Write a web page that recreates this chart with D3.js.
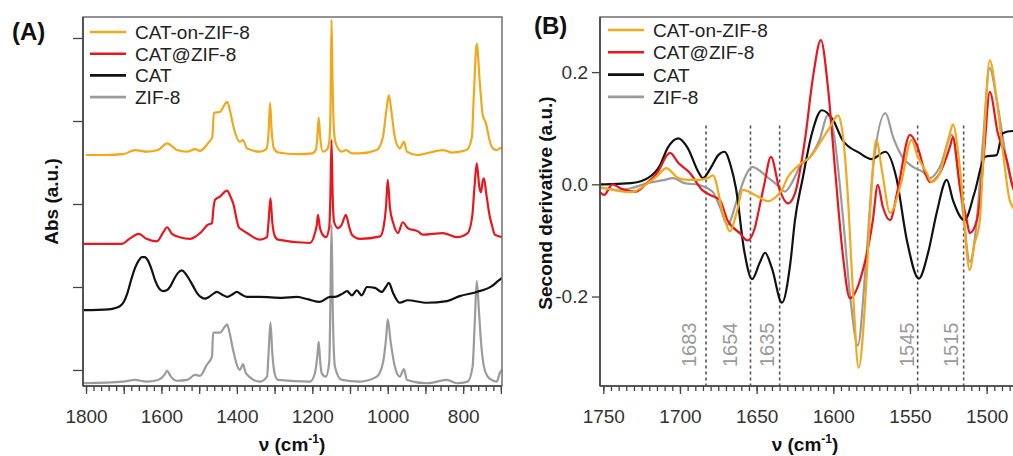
<!DOCTYPE html>
<html>
<head>
<meta charset="utf-8">
<script src="https://cdn.jsdelivr.net/npm/d3@7"></script>
<style>
  body { margin: 0; background: #fff; }
  svg { display: block; }
  text { font-family: "Liberation Sans", Arial, Helvetica, sans-serif; }
</style>
</head>
<body>
<svg id="fig" width="1013" height="456"></svg>
<script>
// ---------- data ----------
const seriesNames  = ["CAT-on-ZIF-8", "CAT@ZIF-8", "CAT", "ZIF-8"];
const seriesColors = ["#f3a71b", "#e8171e", "#111111", "#9b9b9b"];

// (A) FTIR absorbance, offset traces: [wavenumber, abs]
const absCatOnZif = [[1800,2.59],[1750,2.59],[1702,2.60],[1670,2.65],[1638,2.63],[1609,2.65],[1585,2.73],[1559,2.65],[1532,2.63],[1511,2.66],[1498,2.64],[1477,2.73],[1465,2.81],[1461,3.10],[1445,3.11],[1432,3.20],[1426,3.23],[1418,3.12],[1410,2.95],[1392,2.75],[1384,2.77],[1373,2.67],[1339,2.63],[1322,2.66],[1316,2.85],[1312,3.22],[1308,2.90],[1302,2.67],[1290,2.62],[1240,2.60],[1200,2.61],[1190,2.66],[1186,2.85],[1183,3.04],[1179,2.80],[1172,2.63],[1162,2.65],[1155,2.75],[1152,3.10],[1149,4.22],[1146,3.40],[1142,2.85],[1137,2.72],[1122,2.63],[1111,2.65],[1095,2.61],[1074,2.61],[1029,2.65],[1013,2.80],[1003,3.15],[997,3.31],[989,3.07],[981,2.80],[968,2.67],[957,2.75],[949,2.63],[923,2.59],[854,2.65],[830,2.62],[791,2.65],[777,2.80],[772,3.28],[764,3.93],[756,3.47],[748,3.07],[740,2.98],[729,2.75],[721,2.67],[711,2.65],[703,2.67],[697,2.68]];
const absCatAtZif = [[1808,1.52],[1705,1.52],[1685,1.58],[1660,1.64],[1640,1.58],[1612,1.55],[1595,1.66],[1585,1.72],[1572,1.64],[1551,1.60],[1524,1.58],[1509,1.61],[1495,1.66],[1477,1.75],[1466,1.77],[1462,1.95],[1458,2.05],[1445,2.09],[1426,2.16],[1418,2.10],[1410,2.01],[1395,1.72],[1387,1.69],[1373,1.65],[1339,1.57],[1320,1.60],[1316,1.78],[1311,2.07],[1306,1.78],[1300,1.62],[1291,1.57],[1206,1.53],[1193,1.65],[1188,1.75],[1185,1.87],[1180,1.72],[1175,1.65],[1164,1.60],[1155,1.72],[1152,2.10],[1149,2.77],[1146,2.10],[1142,1.78],[1132,1.71],[1122,1.75],[1111,1.87],[1102,1.72],[1095,1.63],[1074,1.58],[1020,1.61],[1010,1.75],[1004,2.00],[1000,2.29],[994,1.95],[986,1.78],[973,1.65],[960,1.78],[947,1.71],[920,1.67],[907,1.63],[854,1.65],[817,1.60],[788,1.65],[776,1.85],[770,2.20],[764,2.49],[757,2.20],[753,2.14],[748,2.28],[745,2.31],[738,2.10],[729,1.84],[724,1.75],[716,1.63],[697,1.60]];
const absCat = [[1808,0.72],[1740,0.73],[1720,0.75],[1710,0.77],[1700,0.82],[1690,0.93],[1680,1.09],[1670,1.23],[1660,1.32],[1652,1.36],[1644,1.36],[1636,1.32],[1626,1.21],[1616,1.07],[1606,0.98],[1596,0.95],[1586,0.96],[1576,1.01],[1566,1.10],[1556,1.17],[1546,1.20],[1536,1.16],[1526,1.09],[1516,1.01],[1506,0.93],[1496,0.88],[1485,0.86],[1474,0.88],[1462,0.92],[1453,0.94],[1440,0.91],[1425,0.88],[1412,0.91],[1400,0.94],[1388,0.91],[1373,0.88],[1339,0.88],[1280,0.87],[1241,0.88],[1210,0.85],[1180,0.82],[1153,0.88],[1140,0.88],[1120,0.92],[1108,0.95],[1095,0.90],[1082,0.96],[1069,0.90],[1055,1.00],[1034,0.99],[1016,0.94],[1005,1.00],[997,1.05],[986,0.93],[968,0.81],[947,0.84],[896,0.81],[843,0.83],[809,0.89],[764,0.94],[724,1.01],[708,1.07],[697,1.11]];
const absZif = [[1808,-0.16],[1702,-0.14],[1670,-0.12],[1640,-0.14],[1609,-0.12],[1592,-0.06],[1585,-0.01],[1575,-0.08],[1559,-0.13],[1532,-0.12],[1511,-0.06],[1498,-0.07],[1480,0.06],[1466,0.16],[1463,0.45],[1445,0.45],[1432,0.52],[1426,0.55],[1418,0.42],[1410,0.24],[1392,0.00],[1384,0.07],[1376,-0.04],[1339,-0.14],[1320,-0.08],[1316,0.20],[1311,0.57],[1306,0.20],[1300,-0.04],[1291,-0.12],[1206,-0.14],[1193,-0.04],[1186,0.20],[1183,0.34],[1179,0.10],[1175,-0.04],[1164,-0.08],[1155,0.10],[1152,0.80],[1149,1.75],[1146,0.80],[1140,0.04],[1122,-0.12],[1074,-0.14],[1029,-0.08],[1013,0.08],[1004,0.40],[1000,0.61],[992,0.33],[981,0.04],[968,-0.08],[957,0.01],[949,-0.12],[896,-0.16],[843,-0.12],[817,-0.16],[788,-0.14],[775,0.04],[769,0.60],[764,1.07],[758,0.70],[753,0.36],[745,0.04],[735,-0.08],[724,-0.12],[711,-0.14],[703,-0.04],[697,0.00]];

// (B) second derivative, amide region: [wavenumber, d2]
const d2CatOnZif = [[1752,-0.005],[1749,-0.007],[1732,-0.014],[1721,0.002],[1714.4,0.016],[1709,0.029],[1701,0.011],[1695,0.008],[1688,0.008],[1682,0.011],[1678.5,0.016],[1672,-0.051],[1667.4,-0.084],[1663,-0.05],[1659,-0.01],[1651,-0.019],[1642.6,-0.03],[1638,-0.024],[1633.5,-0.01],[1629.6,0.013],[1623.7,0.031],[1620.5,0.038],[1614,0.052],[1607.5,0.079],[1602.2,0.102],[1597,0.123],[1594.4,0.1],[1591,0.0],[1587,-0.2],[1583.5,-0.327],[1579,-0.2],[1576,-0.05],[1572,0.079],[1568,0.02],[1563,-0.051],[1556,0.0],[1549,0.079],[1545,0.05],[1539,0.02],[1536,0.004],[1530.5,0.02],[1524,0.09],[1522,0.107],[1517.5,0.031],[1511,-0.153],[1508,-0.108],[1504.4,-0.064],[1502.5,0.031],[1498,0.221],[1493.4,0.15],[1489.5,0.061],[1485,-0.028],[1483,-0.04],[1470,-0.09]];
const d2CatAtZif = [[1752,-0.014],[1749.5,-0.019],[1744,0.0],[1739,-0.007],[1729,-0.013],[1721.5,0.002],[1715,0.02],[1706.5,0.056],[1701,0.038],[1693.5,0.02],[1685.6,-0.01],[1680.4,-0.019],[1674,-0.028],[1669,-0.064],[1661,-0.087],[1656,-0.1],[1651,-0.076],[1650,-0.064],[1645,0.0],[1640.7,0.049],[1635,-0.01],[1629.6,-0.034],[1625,-0.016],[1618.5,0.079],[1613.3,0.19],[1608.1,0.257],[1603.5,0.173],[1599,0.031],[1594,-0.12],[1589.2,-0.203],[1580.7,-0.153],[1574.2,-0.064],[1571,-0.001],[1567.7,-0.04],[1563,-0.064],[1558,-0.01],[1550,0.088],[1545,0.066],[1540,0.02],[1537,0.004],[1530.5,0.02],[1524,0.066],[1522,0.084],[1517.5,-0.004],[1513,-0.064],[1511,-0.087],[1506.4,-0.064],[1504.4,-0.028],[1501.2,0.073],[1498,0.165],[1492.7,0.091],[1486.8,0.043],[1483,-0.004],[1470,-0.06]];
const d2Cat = [[1752,0.0],[1749,0.0],[1732,0.002],[1721,0.011],[1713,0.034],[1708,0.065],[1701,0.082],[1695,0.065],[1688,0.022],[1685,0.011],[1680,0.029],[1675,0.052],[1671,0.058],[1667,0.034],[1663.5,-0.007],[1658,-0.12],[1653,-0.169],[1648,-0.14],[1644.5,-0.122],[1640,-0.15],[1633.5,-0.211],[1628,-0.14],[1625,-0.064],[1620,0.01],[1614,0.09],[1607.5,0.132],[1600,0.114],[1594,0.079],[1583,0.056],[1575,0.045],[1566,0.058],[1559,0.013],[1552,-0.1],[1544.3,-0.168],[1538,-0.12],[1532.6,-0.051],[1526,0.008],[1522,-0.028],[1514.4,-0.064],[1508,-0.016],[1501,0.049],[1493.5,0.052],[1489.6,0.091],[1483,0.095],[1470,0.09]];
const d2Zif = [[1752,-0.007],[1749,-0.007],[1740,-0.011],[1732,-0.007],[1721,0.002],[1710,0.008],[1704.6,0.011],[1697,0.002],[1688,-0.001],[1682,-0.007],[1678.5,-0.014],[1674,-0.04],[1669,-0.072],[1663,-0.03],[1658,0.01],[1653,0.031],[1643,0.013],[1637,0.0],[1631.6,-0.013],[1626,0.008],[1622,0.031],[1615,0.049],[1609,0.079],[1603.5,0.123],[1600,0.095],[1594,-0.05],[1589,-0.2],[1584,-0.287],[1579,-0.15],[1574,0.031],[1566,0.127],[1561,0.084],[1555,0.049],[1548,0.031],[1541.6,0.022],[1537,0.011],[1530.5,0.031],[1522.7,0.088],[1519,0.031],[1515,-0.06],[1511,-0.138],[1507,-0.08],[1502.5,0.073],[1498,0.207],[1493.4,0.15],[1487,0.043],[1483,-0.004],[1470,-0.06]];

// axis ticks and band markers
const nuTicksA = [1800, 1600, 1400, 1200, 1000, 800];
const absTicks = [0, 1, 2, 3, 4];
const nuTicksB = [1750, 1700, 1650, 1600, 1550, 1500];
const derivTicks = [-0.2, 0.0, 0.2];
const derivTickLabels = ["-0.2", "0.0", "0.2"];
const bandPositions = [1683, 1654, 1635, 1545, 1515];
const bandTop = 0.105;

// label offsets for the band numbers (px, left of each dashed line)
const bandLabelShift = [10, 14, 6, 4, 6];

// ---------- drawing ----------
const svg = d3.select("#fig");
const tickFont = 19;
const axisColor = "#444";
const frameColor = "#6f6f6f";

function lineGen(x, y) {
  return d3.line().x(d => x(d[0])).y(d => y(d[1])).curve(d3.curveMonotoneX);
}

function styleAxis(g, w) {
  g.selectAll(".tick line").attr("stroke", axisColor).attr("stroke-width", w || 1.3);
  g.select(".domain").remove();
}

function legend(g, x0, y0, dy) {
  seriesNames.forEach((name, i) => {
    const y = y0 + i * dy;
    g.append("line").attr("x1", x0).attr("x2", x0 + 36).attr("y1", y).attr("y2", y)
      .attr("stroke", seriesColors[i]).attr("stroke-width", 2.6);
    g.append("text").attr("x", x0 + 45).attr("y", y + 7)
      .attr("font-size", 19).attr("fill", "#222").text(name);
  });
}

function xTitle(x, y) {
  const t = svg.append("text").attr("x", x).attr("y", y).attr("text-anchor", "middle")
    .attr("font-size", 19).attr("font-weight", "bold").attr("fill", "#111");
  t.append("tspan").text("ν (cm");
  t.append("tspan").attr("dy", -8).attr("font-size", 12).text("-1");
  t.append("tspan").attr("dy", 8).text(")");
}

// ===== Panel A =====
const A = { l: 83, r: 502, t: 17, b: 386 };
const xA = d3.scaleLinear().domain([1808, 697]).range([A.l, A.r]);
const yA = d3.scaleLinear().domain([-0.193, 4.253]).range([A.b, A.t]);

svg.append("clipPath").attr("id", "clipA").append("rect")
  .attr("x", A.l).attr("y", A.t).attr("width", A.r - A.l).attr("height", A.b - A.t);

const gA = svg.append("g");
const pathA = lineGen(xA, yA);
const absSeries = [absCatOnZif, absCatAtZif, absCat, absZif];
[3, 2, 1, 0].forEach(i => {
  gA.append("path").attr("clip-path", "url(#clipA)").attr("d", pathA(absSeries[i]))
    .attr("fill", "none").attr("stroke", seriesColors[i]).attr("stroke-width", 2.2)
    .attr("stroke-linejoin", "round");
});

// frame
svg.append("rect").attr("x", A.l).attr("y", A.t).attr("width", A.r - A.l).attr("height", A.b - A.t)
  .attr("fill", "none").attr("stroke", frameColor).attr("stroke-width", 1.5);
svg.append("line").attr("x1", A.l).attr("x2", A.l).attr("y1", A.t).attr("y2", A.b).attr("stroke", axisColor).attr("stroke-width", 1.6);
svg.append("line").attr("x1", A.l).attr("x2", A.r).attr("y1", A.b).attr("y2", A.b).attr("stroke", axisColor).attr("stroke-width", 1.6);

// x axis A: minor ticks every 20, major every 100, labels every 200
const gAxMinor = svg.append("g").attr("transform", `translate(0,${A.b})`)
  .call(d3.axisBottom(xA).tickValues(d3.range(700, 1801, 20)).tickSize(5).tickSizeOuter(0).tickFormat(""));
styleAxis(gAxMinor);
const gAxMajor = svg.append("g").attr("transform", `translate(0,${A.b})`)
  .call(d3.axisBottom(xA).tickValues(d3.range(700, 1801, 100)).tickSize(8).tickSizeOuter(0)
    .tickFormat(d => nuTicksA.includes(d) ? d : ""));
styleAxis(gAxMajor);
gAxMajor.selectAll("text").attr("dy", null).attr("y", 37).attr("font-size", tickFont).attr("fill", "#333");

// y axis A: unlabeled ticks
const gAy = svg.append("g").attr("transform", `translate(${A.l},0)`)
  .call(d3.axisLeft(yA).tickValues(absTicks).tickSize(10).tickSizeOuter(0).tickFormat(""));
styleAxis(gAy);

legend(svg.append("g"), 90, 32, 21.7);

svg.append("text").attr("x", 12).attr("y", 40).attr("font-size", 24).attr("font-weight", "bold")
  .attr("fill", "#111").text("(A)");
svg.append("text").attr("transform", `translate(58,${(A.t + A.b) / 2}) rotate(-90)`)
  .attr("text-anchor", "middle").attr("font-size", 19).attr("font-weight", "bold").attr("fill", "#111")
  .text("Abs (a.u.)");
xTitle(292, 451);

// ===== Panel B =====
const B = { l: 600, r: 1040, t: 17, b: 386 };
const xB = d3.scaleLinear().domain([1752.15, 1465.2]).range([B.l, B.r]);
const yB = d3.scaleLinear().domain([-0.3595, 0.2982]).range([B.b, B.t]);

svg.append("clipPath").attr("id", "clipB").append("rect")
  .attr("x", B.l).attr("y", B.t).attr("width", B.r - B.l).attr("height", B.b - B.t);

// band markers
const gBands = svg.append("g");
bandPositions.forEach((p, i) => {
  gBands.append("line").attr("x1", xB(p)).attr("x2", xB(p)).attr("y1", yB(bandTop)).attr("y2", B.b)
    .attr("stroke", "#555").attr("stroke-width", 1.6).attr("stroke-dasharray", "3,3");
  gBands.append("text").attr("transform", `translate(${xB(p) - bandLabelShift[i]},367) rotate(-90)`)
    .attr("font-size", 20).attr("fill", "#9a9a9a").text(p);
});

const gB = svg.append("g");
const pathB = lineGen(xB, yB);
const d2Series = [d2CatOnZif, d2CatAtZif, d2Cat, d2Zif];
[3, 2, 1, 0].forEach(i => {
  gB.append("path").attr("clip-path", "url(#clipB)").attr("d", pathB(d2Series[i]))
    .attr("fill", "none").attr("stroke", seriesColors[i]).attr("stroke-width", 2.2)
    .attr("stroke-linejoin", "round");
});

svg.append("rect").attr("x", B.l).attr("y", B.t).attr("width", B.r - B.l).attr("height", B.b - B.t)
  .attr("fill", "none").attr("stroke", frameColor).attr("stroke-width", 1.5);
svg.append("line").attr("x1", B.l).attr("x2", B.l).attr("y1", B.t).attr("y2", B.b).attr("stroke", axisColor).attr("stroke-width", 1.6);
svg.append("line").attr("x1", B.l).attr("x2", B.r).attr("y1", B.b).attr("y2", B.b).attr("stroke", axisColor).attr("stroke-width", 1.6);

const gBxMinor = svg.append("g").attr("transform", `translate(0,${B.b})`)
  .call(d3.axisBottom(xB).tickValues(d3.range(1470, 1751, 5)).tickSize(5).tickSizeOuter(0).tickFormat(""));
styleAxis(gBxMinor);
const gBxMajor = svg.append("g").attr("transform", `translate(0,${B.b})`)
  .call(d3.axisBottom(xB).tickValues(nuTicksB).tickSize(8).tickSizeOuter(0).tickFormat(d => d));
styleAxis(gBxMajor);
gBxMajor.selectAll("text").attr("dy", null).attr("y", 37).attr("font-size", tickFont).attr("fill", "#333");

const gBy = svg.append("g").attr("transform", `translate(${B.l},0)`)
  .call(d3.axisLeft(yB).tickValues(derivTicks).tickSize(8).tickPadding(4).tickSizeOuter(0)
    .tickFormat((d, i) => derivTickLabels[i]));
styleAxis(gBy);
gBy.selectAll("text").attr("font-size", tickFont).attr("fill", "#333");

legend(svg.append("g"), 608, 30, 22.3);

svg.append("text").attr("x", 534).attr("y", 34).attr("font-size", 24).attr("font-weight", "bold")
  .attr("fill", "#111").text("(B)");
svg.append("text").attr("transform", `translate(552,203) rotate(-90)`)
  .attr("text-anchor", "middle").attr("font-size", 19).attr("font-weight", "bold").attr("fill", "#111")
  .text("Second derivative (a.u.)");
xTitle(805, 451);
</script>
</body>
</html>
